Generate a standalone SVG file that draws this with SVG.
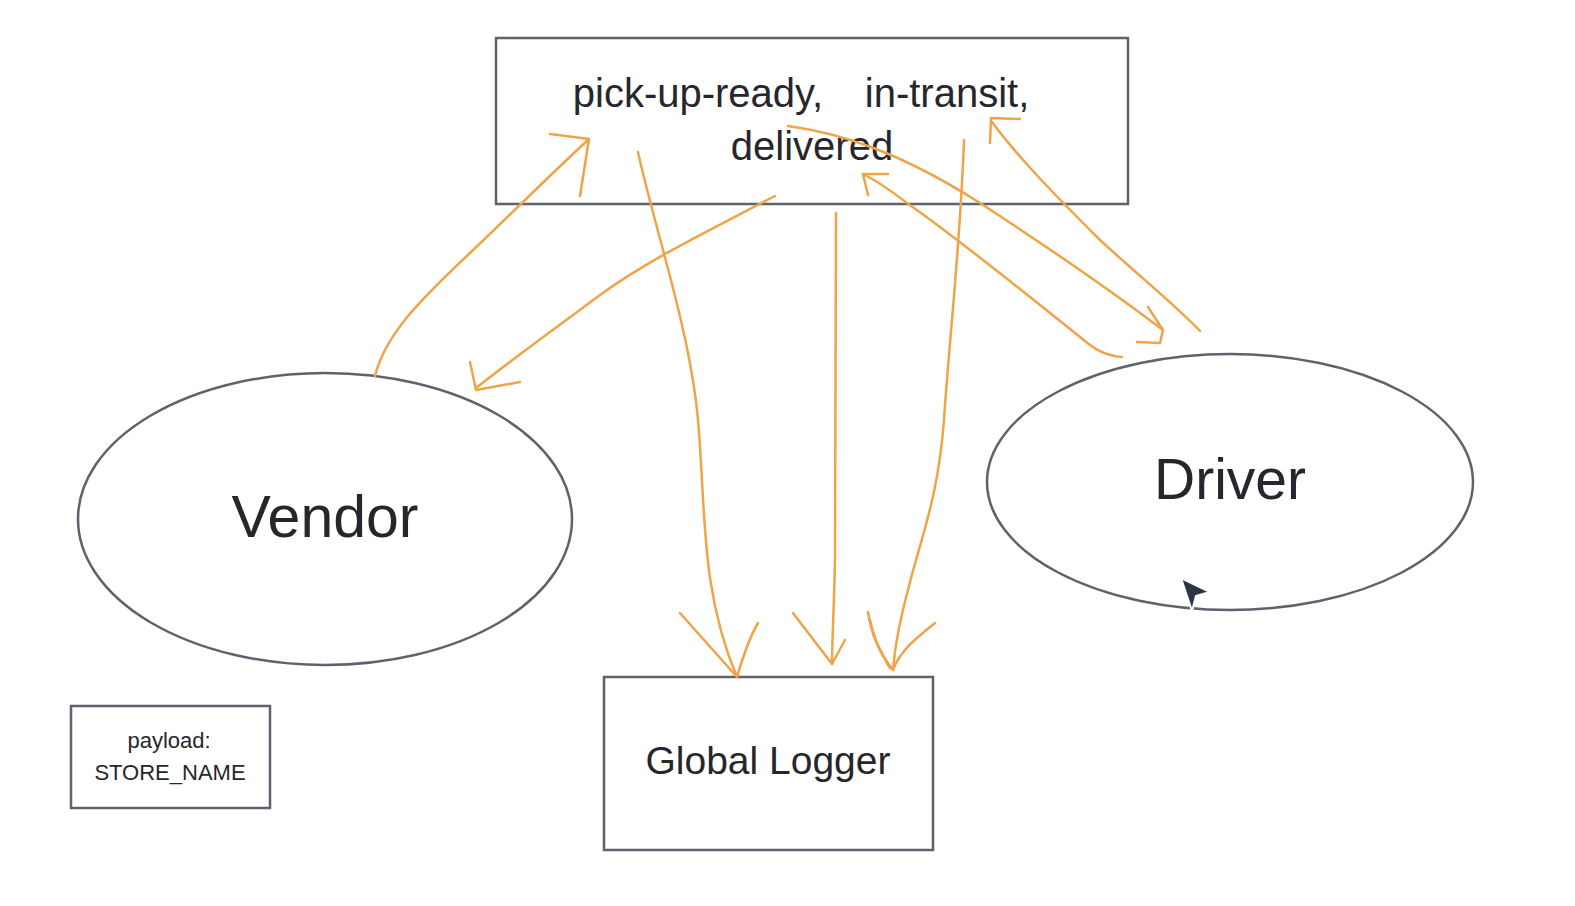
<svg xmlns="http://www.w3.org/2000/svg" width="1575" height="906" viewBox="0 0 1575 906">
<style>
.box{fill:#ffffff;stroke:#5f626d;stroke-width:2.5}
.t{font-family:"Liberation Sans",Arial,sans-serif;fill:#26272c;text-anchor:middle}
.c{fill:none;stroke:#eea447;stroke-width:2.5;stroke-linecap:round;stroke-linejoin:round}
</style>
<rect width="1575" height="906" fill="#ffffff"/>
<g id="events">
<rect class="box" x="496" y="38" width="632" height="166"/>
<text class="t" x="698" y="107" font-size="40">pick-up-ready,</text>
<text class="t" x="947" y="107" font-size="40">in-transit,</text>
<text class="t" x="812" y="160" font-size="40">delivered</text>
</g>
<g id="vendor">
<ellipse class="box" cx="325" cy="519" rx="247" ry="146"/>
<text class="t" x="325" y="537" font-size="59">Vendor</text>
</g>
<g id="driver">
<ellipse class="box" cx="1230" cy="482" rx="243" ry="128"/>
<text class="t" x="1230" y="499" font-size="57">Driver</text>
</g>
<g id="logger">
<rect class="box" x="604" y="677" width="329" height="173"/>
<text class="t" x="768" y="774" font-size="39">Global Logger</text>
</g>
<g id="payload">
<rect class="box" x="71" y="706" width="199" height="102"/>
<text class="t" x="169" y="748" font-size="22">payload:</text>
<text class="t" x="170" y="780" font-size="22">STORE_NAME</text>
</g>
<g id="connectors">
<path class="c" d="M375,376 C385,335 420,300 470,253 C510,215 550,175 589,139"/>
<path class="c" d="M550,134 L589,139 L580,196"/>
<path class="c" d="M775,196 C700,235 645,262 600,295 C560,325 515,357 476,388"/>
<path class="c" d="M470,362 L476,390 L520,382"/>
<path class="c" d="M638,152 C655,230 690,330 698,420 C706,510 700,590 737,677"/>
<path class="c" d="M680,613 L737,677 C742,660 748,640 758,623"/>
<path class="c" d="M836,213 C836,350 835,470 835,560 C834,610 832,640 832,664"/>
<path class="c" d="M793,613 L832,664 L845,640"/>
<path class="c" d="M964,140 C960,250 950,330 944,420 C938,500 920,540 908,590 C900,620 895,645 893,670"/>
<path class="c" d="M868,612 C872,640 885,660 893,670 C900,650 920,635 935,623"/>
<path class="c" d="M870,620 C875,645 885,660 890,668"/>
<path class="c" d="M788,126 C840,133 900,152 980,203 C1040,242 1110,290 1163,330"/>
<path class="c" d="M1148,307 L1163,330 L1160,343 L1137,342"/>
<path class="c" d="M1122,357 C1100,355 1090,345 1080,337 C1040,305 960,240 907,203 C890,190 875,180 863,174"/>
<path class="c" d="M888,174 L863,174 L868,195"/>
<path class="c" d="M1200,331 C1170,300 1140,277 1100,240 C1060,200 1020,160 992,122"/>
<path class="c" d="M990,143 L991,118 L1020,119"/>
</g>
<polygon points="1181,578 1210,592 1196,596 1192,611" fill="#2e3545" stroke="#ffffff" stroke-width="2" stroke-linejoin="round"/>
</svg>
